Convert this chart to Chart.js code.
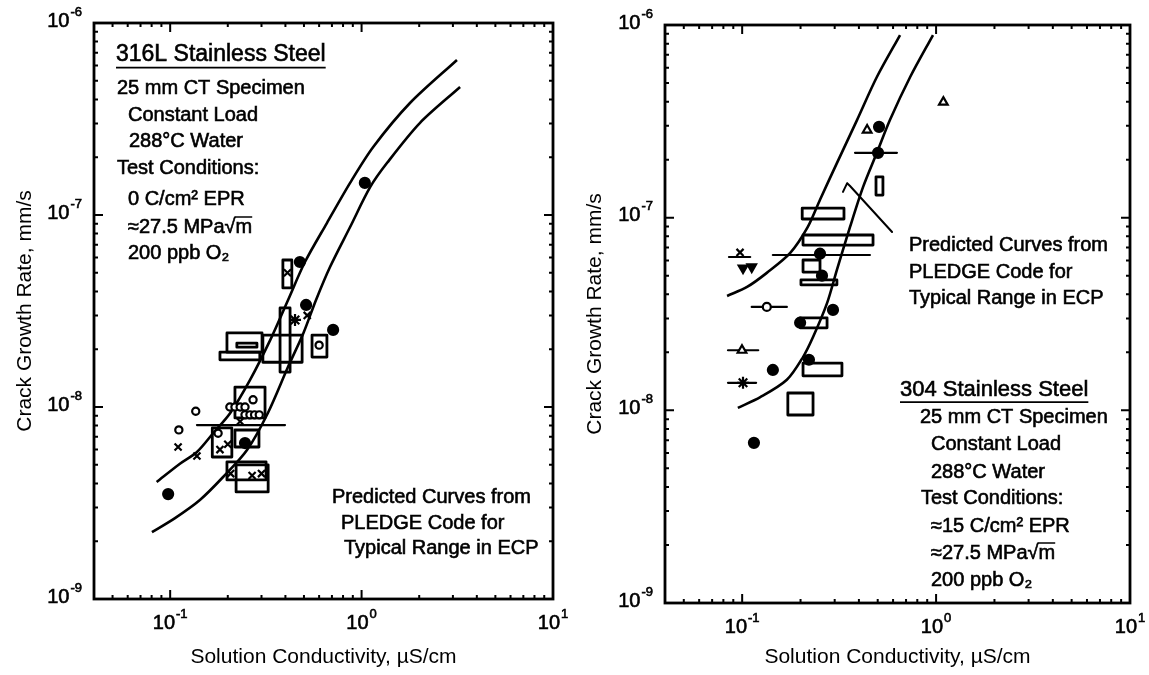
<!DOCTYPE html>
<html>
<head>
<meta charset="utf-8">
<script src="https://cdn.jsdelivr.net/npm/chart.js@4.4.0/dist/chart.umd.min.js"></script>
<style>
  body { margin: 0; background: #fff; width: 1149px; height: 675px; overflow: hidden; position: relative; }
  canvas { position: absolute; top: 0; }
  #left { left: 0; }
  #right { left: 575px; }
</style>
</head>
<body>
<canvas id="left" width="575" height="675"></canvas>
<canvas id="right" width="574" height="675"></canvas>
<script>
const FONT = "'Liberation Sans', Arial, sans-serif";

// Shared log axes
const xRange = [0.04, 10];
const yRange = [1e-9, 1e-6];
const xTickValues = [0.1, 1, 10];
const xTickExps = ['-1', '0', '1'];
const yTickValues = [1e-9, 1e-8, 1e-7, 1e-6];
const yTickExps = ['-9', '-8', '-7', '-6'];

// ---- 316L panel ----
// PLEDGE predicted curves
const l316UpperX = [0.085, 0.112, 0.138, 0.168, 0.206, 0.261, 0.333, 0.413, 0.506, 0.659, 0.871, 1.15, 1.79, 3.15];
const l316UpperY = [4.07e-9, 5.05e-9, 5.83e-9, 7.32e-9, 9.31e-9, 1.38e-8, 2.23e-8, 3.61e-8, 5.69e-8, 9.08e-8, 1.47e-7, 2.26e-7, 3.83e-7, 6.42e-7];
const l316LowerX = [0.0803, 0.106, 0.143, 0.189, 0.252, 0.324, 0.413, 0.497, 0.578, 0.684, 0.871, 1.11, 1.36, 2.02, 3.27];
const l316LowerY = [2.23e-9, 2.64e-9, 3.28e-9, 4.32e-9, 5.97e-9, 9.31e-9, 1.62e-8, 2.43e-8, 3.61e-8, 5.36e-8, 8.66e-8, 1.40e-7, 1.87e-7, 3.02e-7, 4.64e-7];
// measured points
const l316DotX = [0.0976, 0.246, 0.476, 0.513, 0.710, 1.04];
const l316DotY = [3.52e-9, 6.49e-9, 5.69e-8, 3.40e-8, 2.52e-8, 1.47e-7];
const l316OpenX = [0.111, 0.136, 0.271, 0.205, 0.218, 0.232, 0.246, 0.246, 0.261, 0.276, 0.292, 0.178, 0.600];
const l316OpenY = [7.6e-9, 9.5e-9, 1.09e-8, 1.0e-8, 1.0e-8, 1.0e-8, 1.0e-8, 9.1e-9, 9.1e-9, 9.1e-9, 9.1e-9, 7.3e-9, 2.1e-8];
const l316CrossX = [0.110, 0.138, 0.207, 0.300, 0.200, 0.410, 0.520, 0.182, 0.232, 0.268];
const l316CrossY = [6.19e-9, 5.56e-9, 4.5e-9, 4.5e-9, 6.4e-9, 5.0e-8, 3.0e-8, 6.0e-9, 8.4e-9, 4.4e-9];
const l316StarX = [0.449];
const l316StarY = [2.84e-8];
// range boxes [xLow, xHigh, yLow, yHigh]
const l316Boxes = [
  [0.388, 0.432, 4.17e-8, 5.83e-8],
  [0.375, 0.423, 1.52e-8, 3.28e-8],
  [0.198, 0.302, 1.93e-8, 2.43e-8],
  [0.182, 0.294, 1.76e-8, 1.93e-8],
  [0.223, 0.284, 2.05e-8, 2.15e-8],
  [0.305, 0.489, 1.71e-8, 2.37e-8],
  [0.551, 0.659, 1.82e-8, 2.37e-8],
  [0.218, 0.313, 8.77e-9, 1.27e-8],
  [0.166, 0.210, 5.49e-9, 7.78e-9],
  [0.218, 0.291, 6.19e-9, 7.59e-9],
  [0.198, 0.317, 4.17e-9, 5.18e-9],
  [0.221, 0.325, 3.61e-9, 5.0e-9]
];
// horizontal range bars [xLow, xHigh, y]
const l316Bars = [[0.138, 0.398, 8.05e-9]];

// ---- 304 panel ----
const s304UpperX = [0.0836, 0.106, 0.134, 0.177, 0.218, 0.252, 0.308, 0.391, 0.495, 0.652];
const s304UpperY = [3.92e-8, 4.37e-8, 5.17e-8, 6.56e-8, 8.95e-8, 1.24e-7, 1.92e-7, 3.21e-7, 5.37e-7, 8.87e-7];
const s304LowerX = [0.095, 0.124, 0.170, 0.206, 0.232, 0.274, 0.308, 0.360, 0.420, 0.495, 0.578, 0.735, 0.964];
const s304LowerY = [1.03e-8, 1.17e-8, 1.44e-8, 1.89e-8, 2.40e-8, 3.60e-8, 5.36e-8, 8.95e-8, 1.44e-7, 2.17e-7, 3.21e-7, 5.37e-7, 8.87e-7];
const s304DotX = [0.508, 0.502, 0.252, 0.294, 0.199, 0.144, 0.221, 0.115, 0.258];
const s304DotY = [2.96e-7, 2.17e-7, 6.5e-8, 3.32e-8, 2.85e-8, 1.62e-8, 1.83e-8, 6.78e-9, 5.0e-8];
const s304TriX = [1.09, 0.441, 0.0998];
const s304TriY = [3.98e-7, 2.85e-7, 2.05e-8];
const s304DownX = [0.101, 0.112];
const s304DownY = [5.48e-8, 5.55e-8];
const s304OpenX = [0.134];
const s304OpenY = [3.44e-8];
const s304CrossX = [0.0975];
const s304CrossY = [6.6e-8];
const s304StarX = [0.101];
const s304StarY = [1.39e-8];
const s304Boxes = [
  [0.490, 0.532, 1.31e-7, 1.63e-7],
  [0.204, 0.335, 9.84e-8, 1.12e-7],
  [0.206, 0.473, 7.21e-8, 8.13e-8],
  [0.206, 0.252, 5.22e-8, 6.03e-8],
  [0.201, 0.308, 4.48e-8, 4.75e-8],
  [0.199, 0.274, 2.68e-8, 3.02e-8],
  [0.206, 0.327, 1.51e-8, 1.76e-8],
  [0.172, 0.232, 9.46e-9, 1.23e-8]
];
const s304Bars = [
  [0.382, 0.628, 2.17e-7],
  [0.144, 0.456, 6.40e-8],
  [0.0855, 0.110, 6.25e-8],
  [0.112, 0.170, 3.44e-8],
  [0.0845, 0.121, 2.05e-8],
  [0.0845, 0.118, 1.39e-8]
];
// leader line from the note to the curves
const s304LeaderX = [0.593, 0.360, 0.348, 0.331];
const s304LeaderY = [8.43e-8, 1.46e-7, 1.51e-7, 1.36e-7];

// helpers
function pts(xs, ys) { return xs.map((x, i) => ({ x: x, y: ys[i] })); }

function curve(xs, ys) {
  return { data: pts(xs, ys), showLine: true, borderColor: '#000', borderWidth: 2.6,
           pointRadius: 0, tension: 0.3, fill: false };
}

function outline(points, width) {
  return { data: points, showLine: true, borderColor: '#000', borderWidth: width,
           pointRadius: 0, tension: 0, fill: false, borderJoinStyle: 'round', borderCapStyle: 'round' };
}

function boxSet(boxes) {
  return boxes.map(b => outline([
    { x: b[0], y: b[2] }, { x: b[1], y: b[2] }, { x: b[1], y: b[3] },
    { x: b[0], y: b[3] }, { x: b[0], y: b[2] }
  ], 2.8));
}

function barSet(bars) {
  return bars.map(b => outline([{ x: b[0], y: b[2] }, { x: b[1], y: b[2] }], 2.2));
}

function markers(xs, ys, style, filled, r, rot) {
  return { data: pts(xs, ys), showLine: false, pointStyle: style, pointRadius: r,
           pointRotation: rot || 0, borderWidth: 2.2, borderColor: '#000',
           backgroundColor: filled ? '#000' : '#fff' };
}

function logTicks(min, max) {
  const out = [];
  for (let e = Math.floor(Math.log10(min)); e <= Math.ceil(Math.log10(max)); e++) {
    for (let m = 1; m < 10; m++) {
      const v = m * Math.pow(10, e);
      if (v >= min * 0.999 && v <= max * 1.001) out.push(v);
    }
  }
  return out;
}

function isDecade(v) {
  const l = Math.log10(v);
  return Math.abs(l - Math.round(l)) < 1e-6;
}

// heavy text, a little like the scanned original
function inkText(ctx, text, x, y) {
  ctx.fillText(text, x, y);
  ctx.lineWidth = 0.6;
  ctx.strokeText(text, x, y);
}

// "10" with a raised exponent; align: 'center' (x axis) or 'right' (y axis)
function powerLabel(ctx, exp, x, y, align) {
  ctx.font = '20px ' + FONT;
  const wb = ctx.measureText('10').width;
  ctx.font = '13px ' + FONT;
  const we = ctx.measureText(exp).width;
  const total = wb + we + 1;
  const left = align === 'center' ? x - total / 2 : x - total;
  ctx.font = '20px ' + FONT;
  inkText(ctx, '10', left, y);
  ctx.font = '13px ' + FONT;
  inkText(ctx, exp, left + wb + 1, y - 9);
}

// box frame with inward ticks on all four sides, plus decade labels
const framePlugin = {
  id: 'frame',
  afterDatasetsDraw(chart) {
    const { ctx, chartArea: a, scales: { x, y } } = chart;
    ctx.save();
    ctx.strokeStyle = '#000';
    ctx.fillStyle = '#000';
    ctx.lineCap = 'butt';
    ctx.lineWidth = 2;
    x.ticks.forEach(t => {
      const px = x.getPixelForValue(t.value);
      const len = isDecade(t.value) ? 9 : 4;
      ctx.beginPath();
      ctx.moveTo(px, a.bottom); ctx.lineTo(px, a.bottom - len);
      ctx.moveTo(px, a.top); ctx.lineTo(px, a.top + len);
      ctx.stroke();
    });
    y.ticks.forEach(t => {
      const py = y.getPixelForValue(t.value);
      const len = isDecade(t.value) ? 9 : 4;
      ctx.beginPath();
      ctx.moveTo(a.left, py); ctx.lineTo(a.left + len, py);
      ctx.moveTo(a.right, py); ctx.lineTo(a.right - len, py);
      ctx.stroke();
    });
    ctx.lineWidth = 2.8;
    ctx.strokeRect(a.left, a.top, a.right - a.left, a.bottom - a.top);

    ctx.textBaseline = 'middle';
    ctx.textAlign = 'left';
    xTickValues.forEach((v, i) => {
      powerLabel(ctx, xTickExps[i], x.getPixelForValue(v), a.bottom + 24, 'center');
    });
    yTickValues.forEach((v, i) => {
      powerLabel(ctx, yTickExps[i], a.left - 12, y.getPixelForValue(v) - 2, 'right');
    });
    ctx.restore();
  }
};

// free text notes inside each panel
function notesPlugin(notes) {
  return {
    id: 'notes',
    afterDraw(chart) {
      const ctx = chart.ctx;
      ctx.save();
      ctx.fillStyle = '#000';
      ctx.strokeStyle = '#000';
      ctx.textBaseline = 'middle';
      ctx.textAlign = 'left';
      notes.forEach(n => {
        ctx.font = n.size + 'px ' + FONT;
        inkText(ctx, n.text, n.x, n.y);
        if (n.underline) {
          const w = ctx.measureText(n.text).width;
          ctx.lineWidth = 1.8;
          ctx.beginPath();
          ctx.moveTo(n.x, n.y + n.size * 0.55);
          ctx.lineTo(n.x + w, n.y + n.size * 0.55);
          ctx.stroke();
        }
        if (n.text.indexOf('√') >= 0) {
          // overline over the radicand
          const w0 = ctx.measureText(n.text.slice(0, n.text.indexOf('√') + 1)).width;
          const w1 = ctx.measureText(n.text).width;
          ctx.lineWidth = 1.5;
          ctx.beginPath();
          ctx.moveTo(n.x + w0 - 1, n.y - n.size * 0.5);
          ctx.lineTo(n.x + w1, n.y - n.size * 0.5);
          ctx.stroke();
        }
      });
      ctx.restore();
    }
  };
}

function makeChart(id, datasets, geom, notes) {
  return new Chart(document.getElementById(id), {
    type: 'scatter',
    data: { datasets: datasets },
    options: {
      responsive: false,
      animation: false,
      layout: { padding: { top: geom.top, right: geom.right, left: 0, bottom: 0 } },
      plugins: { legend: { display: false }, tooltip: { enabled: false } },
      scales: {
        x: {
          type: 'logarithmic', min: xRange[0], max: xRange[1],
          grid: { display: false, drawTicks: false },
          border: { display: false },
          afterBuildTicks: s => { s.ticks = logTicks(xRange[0], xRange[1]).map(v => ({ value: v })); },
          afterFit: s => { s.height = geom.xAxisH; },
          ticks: { display: false, autoSkip: false },
          title: { display: true, text: 'Solution Conductivity, µS/cm', color: '#000',
                   font: { size: 21, family: FONT }, padding: { top: 0, bottom: 5 } }
        },
        y: {
          type: 'logarithmic', min: yRange[0], max: yRange[1],
          grid: { display: false, drawTicks: false },
          border: { display: false },
          afterBuildTicks: s => { s.ticks = logTicks(yRange[0], yRange[1]).map(v => ({ value: v })); },
          afterFit: s => { s.width = geom.yAxisW; },
          ticks: { display: false, autoSkip: false },
          title: { display: true, text: 'Crack Growth Rate, mm/s', color: '#000',
                   font: { size: 21, family: FONT }, padding: { top: geom.titlePad, bottom: 0 } }
        }
      }
    },
    plugins: [framePlugin, notesPlugin(notes)]
  });
}

// Left panel: 316L
const leftSets = [].concat(
  [markers(l316DotX, l316DotY, 'circle', true, 5)],
  [markers(l316StarX, l316StarY, 'star', false, 6)],
  [markers(l316CrossX, l316CrossY, 'crossRot', false, 5)],
  [markers(l316OpenX, l316OpenY, 'circle', false, 3.6)],
  boxSet(l316Boxes),
  barSet(l316Bars),
  [curve(l316UpperX, l316UpperY), curve(l316LowerX, l316LowerY)]
);

makeChart('left', leftSets,
  { top: 23, right: 22, xAxisH: 76, yAxisW: 94, titlePad: 13 },
  [
    { text: '316L Stainless Steel', x: 116, y: 55, size: 23, underline: true },
    { text: '25 mm CT Specimen', x: 117, y: 88, size: 20 },
    { text: 'Constant Load', x: 128, y: 115, size: 20 },
    { text: '288°C Water', x: 129, y: 141, size: 20 },
    { text: 'Test Conditions:', x: 117, y: 168, size: 20 },
    { text: '0 C/cm² EPR', x: 128, y: 199, size: 20 },
    { text: '≈27.5 MPa√m', x: 128, y: 227, size: 20 },
    { text: '200 ppb O₂', x: 128, y: 253, size: 20 },
    { text: 'Predicted Curves from', x: 332, y: 497, size: 20 },
    { text: 'PLEDGE Code for', x: 341, y: 523, size: 20 },
    { text: 'Typical Range in ECP', x: 344, y: 548, size: 20 }
  ]);

// Right panel: 304
const rightSets = [].concat(
  [markers(s304DotX, s304DotY, 'circle', true, 5)],
  [markers(s304TriX, s304TriY, 'triangle', false, 5)],
  [markers(s304DownX, s304DownY, 'triangle', true, 5, 180)],
  [markers(s304OpenX, s304OpenY, 'circle', false, 4)],
  [markers(s304CrossX, s304CrossY, 'crossRot', false, 5)],
  [markers(s304StarX, s304StarY, 'star', false, 6)],
  boxSet(s304Boxes),
  barSet(s304Bars),
  [outline(pts(s304LeaderX, s304LeaderY), 2)],
  [curve(s304UpperX, s304UpperY), curve(s304LowerX, s304LowerY)]
);

makeChart('right', rightSets,
  { top: 25, right: 19, xAxisH: 72, yAxisW: 90, titlePad: 8 },
  [
    { text: 'Predicted Curves from', x: 334, y: 245, size: 20 },
    { text: 'PLEDGE Code for', x: 334, y: 272, size: 20 },
    { text: 'Typical Range in ECP', x: 334, y: 298, size: 20 },
    { text: '304 Stainless Steel', x: 325, y: 390, size: 22, underline: true },
    { text: '25 mm CT Specimen', x: 345, y: 417, size: 20 },
    { text: 'Constant Load', x: 356, y: 444, size: 20 },
    { text: '288°C Water', x: 356, y: 472, size: 20 },
    { text: 'Test Conditions:', x: 346, y: 498, size: 20 },
    { text: '≈15 C/cm² EPR', x: 356, y: 526, size: 20 },
    { text: '≈27.5 MPa√m', x: 356, y: 553, size: 20 },
    { text: '200 ppb O₂', x: 356, y: 580, size: 20 }
  ]);
</script>
</body>
</html>
